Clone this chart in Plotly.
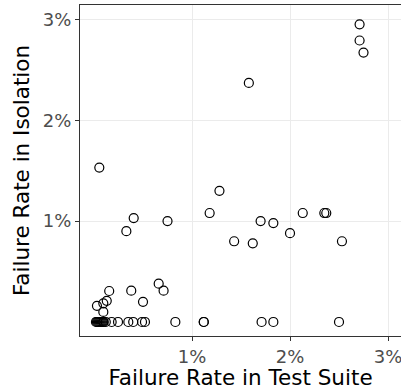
import plotly.graph_objects as go

# Failure rates (%)
suite_rate = [
    # y = 0 row
    0.02, 0.03, 0.04, 0.05, 0.06, 0.07, 0.08, 0.09, 0.10, 0.12,
    0.18, 0.245, 0.35, 0.40, 0.49, 0.52, 0.83, 1.12, 1.12, 1.71, 1.83, 2.50,
    # low cluster
    0.03, 0.095, 0.095, 0.13, 0.155, 0.38, 0.50, 0.66, 0.71,
    # middle
    0.054, 0.33, 0.405, 0.75, 1.18, 1.28, 1.43, 1.62, 1.70, 1.83, 2.00,
    2.13, 2.35, 2.37, 2.53,
    # top
    1.58, 2.71, 2.71, 2.75,
]
isolation_rate = [
    0, 0, 0, 0, 0, 0, 0, 0, 0, 0,
    0, 0, 0, 0, 0, 0, 0, 0, 0, 0, 0, 0,
    0.16, 0.10, 0.185, 0.21, 0.307, 0.31, 0.20, 0.38, 0.31,
    1.53, 0.90, 1.03, 1.00, 1.08, 1.30, 0.80, 0.78, 1.00, 0.98, 0.88,
    1.08, 1.08, 1.08, 0.80,
    2.37, 2.95, 2.79, 2.67,
]
tick_vals = [1, 2, 3]
tick_text = ["1%", "2%", "3%"]

fig = go.Figure(go.Scatter(
    x=suite_rate, y=isolation_rate, mode="markers",
    marker=dict(symbol="circle-open", size=9, color="black", line=dict(width=1.2)),
    cliponaxis=False,
))

font = "DejaVu Sans"
fig.update_layout(
    width=401, height=390,
    margin=dict(l=80, r=0, t=5, b=54),
    paper_bgcolor="white", plot_bgcolor="white",
    showlegend=False,
    font=dict(family=font),
)
fig.update_xaxes(
    automargin=False,
    range=[-0.143, -0.143 + 321 / 98],
    tickvals=tick_vals, ticktext=tick_text,
    tickfont=dict(size=18, color="#4d4d4d"),
    ticklabeloverflow="allow",
    ticks="outside", ticklen=4, tickcolor="#333333", tickwidth=1,
    showgrid=True, gridcolor="#ebebeb", gridwidth=1.2,
    zeroline=False,
    showline=True, linecolor="#333333", linewidth=1.2, mirror=True,
    title=dict(text="Failure Rate in Test Suite", font=dict(size=21.5, color="black"), standoff=4),
)
fig.update_yaxes(
    automargin=False,
    range=[-0.139, 3.142],
    tickvals=tick_vals, ticktext=tick_text,
    tickfont=dict(size=18, color="#4d4d4d"),
    ticks="outside", ticklen=4, tickcolor="#333333", tickwidth=1,
    showgrid=True, gridcolor="#ebebeb", gridwidth=1.2,
    zeroline=False,
    showline=True, linecolor="#333333", linewidth=1.2,
    title=dict(text="Failure Rate in Isolation", font=dict(size=21.5, color="black"), standoff=7),
)

fig.write_html(
    "out.html",
    config={"displayModeBar": False},
    post_script="document.body.style.margin='0';document.body.style.overflow='hidden';",
)
